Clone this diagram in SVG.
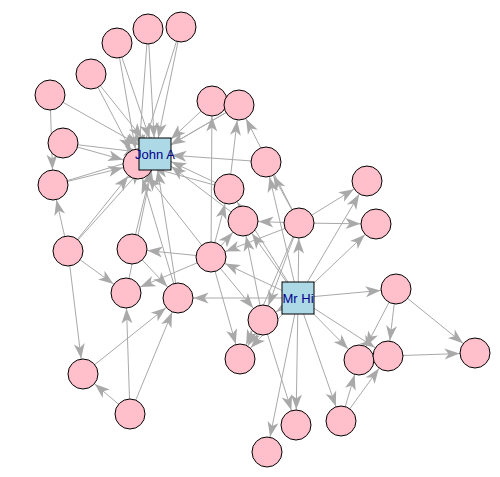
<svg xmlns="http://www.w3.org/2000/svg" width="500" height="477" viewBox="0 0 500 477">
<style>
.e{stroke:#A9A9A9;stroke-width:1;fill:none}
.c{fill:#FFC0CB;stroke:#000;stroke-width:1}
.s{fill:#ADD8E6;stroke:#000;stroke-width:1}
.t{font-family:"Liberation Sans",Arial,sans-serif;font-size:13px;fill:#00008B;text-anchor:middle}
</style>
<defs>
<marker id="c" markerUnits="userSpaceOnUse" markerWidth="15" markerHeight="11" refX="30.5" refY="5.5" orient="auto" overflow="visible"><path d="M0,0 L15,5.5 L0,11 L4,5.5 z" fill="#A9A9A9"/></marker>
<marker id="s16" markerUnits="userSpaceOnUse" markerWidth="15" markerHeight="11" refX="31.5" refY="5.5" orient="auto" overflow="visible"><path d="M0,0 L15,5.5 L0,11 L4,5.5 z" fill="#A9A9A9"/></marker>
<marker id="s18" markerUnits="userSpaceOnUse" markerWidth="15" markerHeight="11" refX="33" refY="5.5" orient="auto" overflow="visible"><path d="M0,0 L15,5.5 L0,11 L4,5.5 z" fill="#A9A9A9"/></marker>
<marker id="s20" markerUnits="userSpaceOnUse" markerWidth="15" markerHeight="11" refX="35.3" refY="5.5" orient="auto" overflow="visible"><path d="M0,0 L15,5.5 L0,11 L4,5.5 z" fill="#A9A9A9"/></marker>
<marker id="s22" markerUnits="userSpaceOnUse" markerWidth="15" markerHeight="11" refX="36.7" refY="5.5" orient="auto" overflow="visible"><path d="M0,0 L15,5.5 L0,11 L4,5.5 z" fill="#A9A9A9"/></marker>
</defs>
<g id="edges">
<line class="e" marker-end="url(#c)" x1="298" y1="298" x2="299" y2="223"/>
<line class="e" marker-end="url(#c)" x1="298" y1="298" x2="211" y2="257"/>
<line class="e" marker-end="url(#c)" x1="298" y1="298" x2="263" y2="320"/>
<line class="e" marker-end="url(#c)" x1="298" y1="298" x2="341" y2="421"/>
<line class="e" marker-end="url(#c)" x1="298" y1="298" x2="396" y2="289"/>
<line class="e" marker-end="url(#c)" x1="298" y1="298" x2="388" y2="356"/>
<line class="e" marker-end="url(#c)" x1="298" y1="298" x2="240" y2="359"/>
<line class="e" marker-end="url(#c)" x1="298" y1="298" x2="229" y2="189"/>
<line class="e" marker-end="url(#c)" x1="298" y1="298" x2="359" y2="360"/>
<line class="e" marker-end="url(#c)" x1="298" y1="298" x2="267" y2="452"/>
<line class="e" marker-end="url(#c)" x1="298" y1="298" x2="296" y2="425"/>
<line class="e" marker-end="url(#c)" x1="298" y1="298" x2="243" y2="221"/>
<line class="e" marker-end="url(#c)" x1="298" y1="298" x2="367" y2="181"/>
<line class="e" marker-end="url(#c)" x1="298" y1="298" x2="266" y2="162"/>
<line class="e" marker-end="url(#c)" x1="298" y1="298" x2="376" y2="224"/>
<line class="e" marker-end="url(#c)" x1="298" y1="298" x2="178" y2="298"/>
<line class="e" marker-end="url(#c)" x1="299" y1="223" x2="211" y2="257"/>
<line class="e" marker-end="url(#c)" x1="299" y1="223" x2="263" y2="320"/>
<line class="e" marker-end="url(#c)" x1="299" y1="223" x2="240" y2="359"/>
<line class="e" marker-end="url(#c)" x1="299" y1="223" x2="243" y2="221"/>
<line class="e" marker-end="url(#c)" x1="299" y1="223" x2="367" y2="181"/>
<line class="e" marker-end="url(#c)" x1="299" y1="223" x2="266" y2="162"/>
<line class="e" marker-end="url(#c)" x1="299" y1="223" x2="376" y2="224"/>
<line class="e" marker-end="url(#c)" x1="299" y1="223" x2="239" y2="105"/>
<line class="e" marker-end="url(#c)" x1="211" y1="257" x2="263" y2="320"/>
<line class="e" marker-end="url(#c)" x1="211" y1="257" x2="240" y2="359"/>
<line class="e" marker-end="url(#c)" x1="211" y1="257" x2="229" y2="189"/>
<line class="e" marker-end="url(#c)" x1="211" y1="257" x2="212" y2="101"/>
<line class="e" marker-end="url(#c)" x1="211" y1="257" x2="243" y2="221"/>
<line class="e" marker-end="url(#c)" x1="211" y1="257" x2="126" y2="293"/>
<line class="e" marker-end="url(#c)" x1="211" y1="257" x2="132" y2="249"/>
<line class="e" marker-end="url(#c)" x1="211" y1="257" x2="138" y2="164"/>
<line class="e" marker-end="url(#c)" x1="263" y1="320" x2="240" y2="359"/>
<line class="e" marker-end="url(#c)" x1="263" y1="320" x2="296" y2="425"/>
<line class="e" marker-end="url(#c)" x1="263" y1="320" x2="243" y2="221"/>
<line class="e" marker-end="url(#c)" x1="341" y1="421" x2="388" y2="356"/>
<line class="e" marker-end="url(#c)" x1="341" y1="421" x2="359" y2="360"/>
<line class="e" marker-end="url(#c)" x1="396" y1="289" x2="388" y2="356"/>
<line class="e" marker-end="url(#c)" x1="396" y1="289" x2="359" y2="360"/>
<line class="e" marker-end="url(#c)" x1="396" y1="289" x2="475" y2="353"/>
<line class="e" marker-end="url(#c)" x1="388" y1="356" x2="475" y2="353"/>
<line class="e" marker-end="url(#c)" x1="229" y1="189" x2="239" y2="105"/>
<line class="e" marker-end="url(#c)" x1="229" y1="189" x2="138" y2="164"/>
<line class="e" marker-end="url(#s18)" x1="229" y1="189" x2="155" y2="154"/>
<line class="e" marker-end="url(#s22)" x1="212" y1="101" x2="155" y2="154"/>
<line class="e" marker-end="url(#s20)" x1="243" y1="221" x2="155" y2="154"/>
<line class="e" marker-end="url(#c)" x1="181" y1="27" x2="138" y2="164"/>
<line class="e" marker-end="url(#s16)" x1="181" y1="27" x2="155" y2="154"/>
<line class="e" marker-end="url(#c)" x1="148" y1="29" x2="138" y2="164"/>
<line class="e" marker-end="url(#s16)" x1="148" y1="29" x2="155" y2="154"/>
<line class="e" marker-end="url(#c)" x1="117" y1="43" x2="138" y2="164"/>
<line class="e" marker-end="url(#s16)" x1="117" y1="43" x2="155" y2="154"/>
<line class="e" marker-end="url(#s16)" x1="266" y1="162" x2="155" y2="154"/>
<line class="e" marker-end="url(#c)" x1="91" y1="74" x2="138" y2="164"/>
<line class="e" marker-end="url(#s20)" x1="91" y1="74" x2="155" y2="154"/>
<line class="e" marker-end="url(#c)" x1="63" y1="143" x2="138" y2="164"/>
<line class="e" marker-end="url(#s16)" x1="63" y1="143" x2="155" y2="154"/>
<line class="e" marker-end="url(#c)" x1="68" y1="251" x2="83" y2="374"/>
<line class="e" marker-end="url(#c)" x1="68" y1="251" x2="126" y2="293"/>
<line class="e" marker-end="url(#c)" x1="68" y1="251" x2="53" y2="185"/>
<line class="e" marker-end="url(#c)" x1="68" y1="251" x2="138" y2="164"/>
<line class="e" marker-end="url(#s22)" x1="68" y1="251" x2="155" y2="154"/>
<line class="e" marker-end="url(#c)" x1="130" y1="414" x2="83" y2="374"/>
<line class="e" marker-end="url(#c)" x1="130" y1="414" x2="126" y2="293"/>
<line class="e" marker-end="url(#c)" x1="130" y1="414" x2="178" y2="298"/>
<line class="e" marker-end="url(#c)" x1="83" y1="374" x2="178" y2="298"/>
<line class="e" marker-end="url(#c)" x1="50" y1="95" x2="53" y2="185"/>
<line class="e" marker-end="url(#s18)" x1="50" y1="95" x2="155" y2="154"/>
<line class="e" marker-end="url(#s16)" x1="126" y1="293" x2="155" y2="154"/>
<line class="e" marker-end="url(#c)" x1="132" y1="249" x2="178" y2="298"/>
<line class="e" marker-end="url(#s16)" x1="132" y1="249" x2="155" y2="154"/>
<line class="e" marker-end="url(#c)" x1="53" y1="185" x2="138" y2="164"/>
<line class="e" marker-end="url(#s16)" x1="53" y1="185" x2="155" y2="154"/>
<line class="e" marker-end="url(#c)" x1="239" y1="105" x2="138" y2="164"/>
<line class="e" marker-end="url(#s18)" x1="239" y1="105" x2="155" y2="154"/>
<line class="e" marker-end="url(#c)" x1="178" y1="298" x2="138" y2="164"/>
<line class="e" marker-end="url(#s16)" x1="178" y1="298" x2="155" y2="154"/>
<line class="e" marker-end="url(#s16)" x1="138" y1="164" x2="155" y2="154"/>
</g>
<g id="n2"><circle class="c" cx="299" cy="223" r="15"/></g>
<g id="n3"><circle class="c" cx="211" cy="257" r="15"/></g>
<g id="n4"><circle class="c" cx="263" cy="320" r="15"/></g>
<g id="n5"><circle class="c" cx="341" cy="421" r="15"/></g>
<g id="n6"><circle class="c" cx="396" cy="289" r="15"/></g>
<g id="n8"><circle class="c" cx="240" cy="359" r="15"/></g>
<g id="n9"><circle class="c" cx="229" cy="189" r="15"/></g>
<g id="n10"><circle class="c" cx="212" cy="101" r="15"/></g>
<g id="n11"><circle class="c" cx="359" cy="360" r="15"/></g>
<g id="n7"><circle class="c" cx="388" cy="356" r="15"/></g>
<g id="n12"><circle class="c" cx="267" cy="452" r="15"/></g>
<g id="n13"><circle class="c" cx="296" cy="425" r="15"/></g>
<g id="n14"><circle class="c" cx="243" cy="221" r="15"/></g>
<g id="n15"><circle class="c" cx="181" cy="27" r="15"/></g>
<g id="n16"><circle class="c" cx="148" cy="29" r="15"/></g>
<g id="n17"><circle class="c" cx="475" cy="353" r="15"/></g>
<g id="n18"><circle class="c" cx="367" cy="181" r="15"/></g>
<g id="n19"><circle class="c" cx="117" cy="43" r="15"/></g>
<g id="n20"><circle class="c" cx="266" cy="162" r="15"/></g>
<g id="n21"><circle class="c" cx="91" cy="74" r="15"/></g>
<g id="n22"><circle class="c" cx="376" cy="224" r="15"/></g>
<g id="n23"><circle class="c" cx="63" cy="143" r="15"/></g>
<g id="n24"><circle class="c" cx="68" cy="251" r="15"/></g>
<g id="n25"><circle class="c" cx="130" cy="414" r="15"/></g>
<g id="n26"><circle class="c" cx="83" cy="374" r="15"/></g>
<g id="n27"><circle class="c" cx="50" cy="95" r="15"/></g>
<g id="n28"><circle class="c" cx="126" cy="293" r="15"/></g>
<g id="n29"><circle class="c" cx="132" cy="249" r="15"/></g>
<g id="n30"><circle class="c" cx="53" cy="185" r="15"/></g>
<g id="n31"><circle class="c" cx="239" cy="105" r="15"/></g>
<g id="n32"><circle class="c" cx="178" cy="298" r="15"/></g>
<g id="n33"><circle class="c" cx="138" cy="164" r="15"/></g>
<g id="n1"><rect class="s" x="282" y="282" width="32" height="32"/><text class="t" x="298" y="303">Mr Hi</text></g>
<g id="n34"><rect class="s" x="139" y="138" width="32" height="32"/><text class="t" x="155" y="159">John A</text></g>
</svg>
